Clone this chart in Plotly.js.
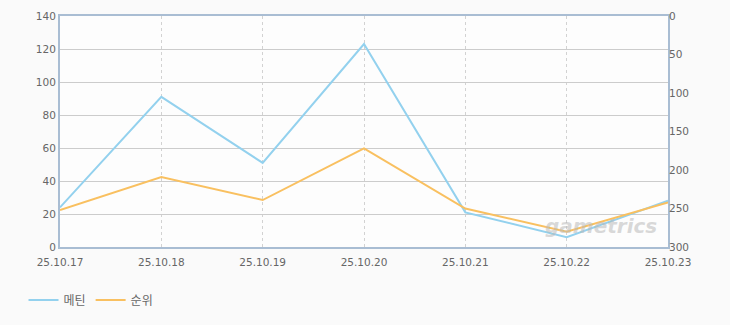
<!DOCTYPE html>
<html><head><meta charset="utf-8">
<script src="https://cdn.plot.ly/plotly-3.0.1.min.js"></script>
<style>html,body{margin:0;padding:0;background:#fafafa;}#chart{width:730px;height:325px;}</style>
</head><body><div id="chart"></div>
<script>
var dates = ["25.10.17","25.10.18","25.10.19","25.10.20","25.10.21","25.10.22","25.10.23"];
var metin = [24, 91, 51, 123, 21, 6, 28];
var rank = [252, 209, 239, 172, 250, 280, 242];
var leftTicks = [0,20,40,60,80,100,120,140];
var rightTicks = [0,50,100,150,200,250,300];

var idx = dates.map(function(d,i){return i;});
var tickFont = {family:'"DejaVu Sans", "Noto Sans CJK KR", sans-serif', size:10.5, color:'#666'};

var traces = [
  {x: idx, y: metin, name: '메틴', type: 'scatter', mode: 'lines', yaxis: 'y',
   line: {color: '#93d1ee', width: 2}},
  {x: idx, y: rank, name: '순위', type: 'scatter', mode: 'lines', yaxis: 'y2',
   line: {color: '#f9c060', width: 2}}
];

var layout = {
  width: 730, height: 325,
  margin: {l: 60, r: 62, t: 16, b: 77},
  paper_bgcolor: '#fafafa',
  plot_bgcolor: '#fdfdfd',
  showlegend: true,
  legend: {orientation: 'h', x: -0.06, xanchor: 'left', y: -0.224, yanchor: 'middle',
           font: {family:'"Noto Sans CJK KR", sans-serif', size: 12, color: '#666'},
           bgcolor: 'rgba(0,0,0,0)', itemwidth: 30, tracegroupgap: 0},
  xaxis: {
    range: [0, 6], tickvals: idx, ticktext: dates, tickfont: tickFont,
    showgrid: true, gridcolor: '#d2d2d2', griddash: '3px,3px', gridwidth: 1,
    showline: true, linecolor: '#a9bdd3', linewidth: 2, mirror: true,
    ticks: '', ticklabelstandoff: 4, zeroline: false, fixedrange: true
  },
  yaxis: {
    range: [0, 140], tickvals: leftTicks, tickfont: tickFont,
    showgrid: true, gridcolor: '#cccccc', gridwidth: 1,
    showline: true, linecolor: '#a9bdd3', linewidth: 2, mirror: true,
    ticks: '', zeroline: false, fixedrange: true
  },
  yaxis2: {
    overlaying: 'y', side: 'right', range: [300, 0], tickvals: rightTicks, tickfont: tickFont,
    showgrid: false, showline: false, ticks: '', zeroline: false, fixedrange: true
  },
  annotations: [{
    xref: 'paper', yref: 'paper', x: 0.89, y: 0.09, xanchor: 'center', yanchor: 'middle',
    text: 'gametrics', showarrow: false,
    font: {family: '"DejaVu Sans", sans-serif', size: 20, color: 'rgba(185,185,185,0.55)', style: 'italic', weight: 'bold'}
  }]
};

Plotly.newPlot('chart', traces, layout, {displayModeBar: false, staticPlot: true});
</script>
</body></html>
